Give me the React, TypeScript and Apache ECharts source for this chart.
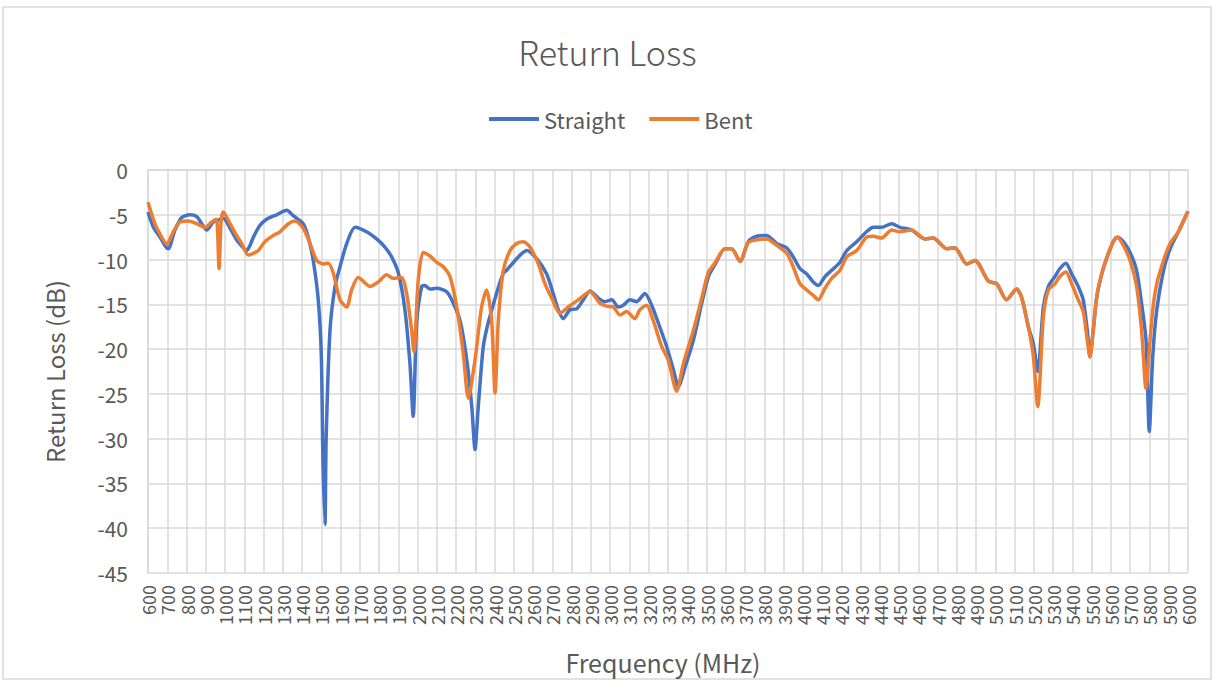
import React, { useEffect, useRef } from "react";
import * as echarts from "echarts";

const straightFreq = [600,628,662,690,705,740,775,818,853,879,905,939,965,991,1026,1060,1095,1112,1130,1147,1181,1216,1268,1320,1354,1406,1432,1458,1484,1500,1508,1519,1525,1545,1571,1597,1632,1675,1735,1787,1830,1865,1900,1934,1960,1977,1995,2021,2038,2064,2099,2151,2177,2220,2255,2281,2298,2315,2341,2367,2400,2425,2446,2462,2498,2532,2567,2618,2670,2704,2730,2756,2791,2826,2860,2895,2938,2973,3008,3042,3068,3102,3137,3180,3215,3250,3293,3328,3354,3389,3432,3475,3510,3543,3596,3630,3674,3717,3760,3812,3864,3916,3950,3985,4020,4054,4080,4115,4150,4193,4228,4280,4331,4366,4409,4461,4504,4565,4634,4677,4747,4790,4851,4894,4963,5007,5058,5110,5136,5171,5197,5220,5249,5275,5309,5335,5366,5396,5430,5456,5477,5491,5508,5526,5552,5577,5612,5633,5664,5699,5733,5759,5782,5799,5817,5838,5873,5907,5950,6000];
const straightLoss = [-4.7,-6.4,-7.5,-8.5,-8.8,-6.7,-5.3,-5.0,-5.2,-6.0,-6.7,-5.8,-5.6,-5.4,-6.5,-7.8,-8.7,-9.0,-8.4,-7.5,-6.2,-5.5,-5.0,-4.5,-5.1,-6.0,-7.5,-10.1,-14.5,-20.8,-32,-39.6,-30,-17.9,-13.0,-10.8,-8.2,-6.4,-6.9,-7.7,-8.6,-9.7,-11.5,-15.6,-21.6,-27.5,-17.1,-13.0,-12.9,-13.3,-13.2,-13.6,-14.5,-16.8,-21.2,-26.4,-31.2,-26.4,-19.7,-17.0,-14.5,-12.7,-11.5,-11.2,-10.3,-9.5,-9.0,-9.9,-11.6,-13.8,-15.6,-16.6,-15.6,-15.5,-14.5,-13.5,-14.3,-14.7,-14.5,-15.3,-15.1,-14.5,-14.7,-13.8,-15.1,-17.1,-19.7,-22.3,-24.2,-22.0,-19.0,-14.9,-11.9,-10.6,-8.8,-8.8,-10.2,-8.0,-7.4,-7.3,-8.2,-8.7,-9.7,-11.0,-11.6,-12.5,-12.9,-11.9,-11.2,-10.3,-9.0,-8.0,-6.9,-6.4,-6.4,-6.0,-6.4,-6.7,-7.7,-7.6,-8.8,-8.7,-10.5,-10.1,-12.4,-12.7,-14.5,-13.3,-14.2,-17.5,-19.4,-22.5,-15.3,-13.0,-11.9,-11.0,-10.4,-11.6,-13.0,-14.5,-17.9,-20.8,-17.9,-14.2,-11.6,-9.9,-8.0,-7.5,-8.0,-9.2,-11.2,-14.9,-19.0,-29.2,-20.8,-15.6,-11.2,-8.8,-6.9,-4.6];

const bentFreq = [600,636,671,697,731,766,809,853,896,931,953,960,969,980,991,1026,1060,1086,1121,1147,1173,1207,1251,1285,1329,1363,1406,1441,1476,1510,1536,1562,1597,1632,1657,1692,1753,1796,1839,1874,1917,1943,1969,1981,2003,2029,2064,2099,2133,2168,2203,2237,2263,2298,2332,2358,2384,2402,2419,2445,2480,2514,2549,2583,2627,2661,2696,2739,2782,2834,2895,2947,2981,3016,3051,3085,3128,3154,3189,3223,3267,3301,3345,3380,3432,3475,3510,3543,3596,3630,3674,3717,3760,3812,3864,3916,3950,3985,4020,4054,4080,4115,4150,4193,4228,4280,4331,4366,4409,4461,4504,4565,4634,4677,4747,4790,4851,4894,4963,5007,5058,5110,5136,5171,5197,5220,5249,5275,5309,5335,5366,5396,5430,5456,5477,5491,5508,5526,5552,5577,5612,5633,5664,5699,5733,5759,5782,5799,5817,5838,5873,5907,5950,6000];
const bentLoss = [-3.6,-6.0,-7.5,-8.3,-6.9,-5.8,-5.7,-6.0,-6.4,-5.8,-5.5,-6.2,-11.0,-5.6,-4.7,-6.0,-7.3,-8.2,-9.5,-9.3,-9.0,-8.0,-7.3,-6.9,-6.0,-5.7,-6.5,-8.2,-10.1,-10.5,-10.4,-11.5,-14.5,-15.3,-13.4,-12.0,-13.0,-12.5,-11.7,-12.1,-12.0,-13.8,-17.9,-20.3,-12.3,-9.2,-9.6,-10.3,-10.8,-11.9,-15.3,-20.5,-25.5,-21.2,-15.3,-13.4,-16.8,-24.9,-16.8,-11.2,-9.0,-8.2,-8.0,-8.6,-10.5,-12.7,-14.3,-16.0,-15.3,-14.5,-13.6,-14.9,-15.2,-15.3,-16.2,-15.8,-16.6,-15.6,-15.1,-16.8,-19.7,-21.2,-24.7,-21.6,-17.9,-14.3,-11.4,-10.4,-8.8,-8.8,-10.2,-8.1,-7.8,-7.7,-8.4,-9.3,-10.8,-12.7,-13.4,-14.0,-14.5,-13.2,-12.1,-11.2,-9.7,-9.0,-7.5,-7.4,-7.6,-6.7,-6.9,-6.7,-7.7,-7.6,-8.8,-8.7,-10.5,-10.1,-12.4,-12.7,-14.5,-13.3,-14.2,-17.5,-20.8,-26.4,-16.4,-13.4,-12.7,-11.9,-11.4,-12.7,-14.5,-15.8,-19.0,-20.9,-17.9,-14.2,-11.6,-9.9,-8.0,-7.5,-8.4,-10.1,-13.0,-17.9,-24.4,-20.1,-15.6,-12.7,-10.1,-8.2,-6.9,-4.6];

const seriesNames = ["Straight", "Bent"];
const seriesColors = ["#4472C4", "#ED7D31"];

const FONT = "'Noto Sans CJK SC', 'Noto Sans', sans-serif";

export default function App() {
  const ref = useRef<HTMLDivElement>(null);
  useEffect(() => {
    if (!ref.current) return;
    const chart = echarts.init(ref.current, null, { renderer: "svg" });
    const pairs = (xs: number[], ys: number[]) => xs.map((x, i) => [x, ys[i]]);
    chart.setOption({
      animation: false,
      backgroundColor: "#ffffff",
      title: {
        text: "Return Loss",
        left: "center",
        top: 29,
        textStyle: { fontFamily: FONT, fontSize: 34, fontWeight: 300, color: "#595959" },
      },
      legend: {
        data: seriesNames,
        top: 103,
        left: 484,
        icon: "rect",
        itemWidth: 50,
        itemHeight: 4,
        itemGap: 24,
        textStyle: { fontFamily: FONT, fontSize: 22, color: "#595959" },
      },
      graphic: [
        {
          type: "rect",
          shape: { x: 3, y: 7, width: 1208, height: 672 },
          style: { fill: "none", stroke: "#d9d9d9", lineWidth: 1.5 },
          silent: true,
        },
      ],
      grid: { left: 148, right: 27, top: 170, bottom: 111, containLabel: false },
      xAxis: {
        type: "value",
        min: 600,
        max: 6000,
        interval: 100,
        name: "Frequency (MHz)",
        nameLocation: "middle",
        nameGap: 76,
        nameTextStyle: { fontFamily: FONT, fontSize: 25, color: "#595959", padding: [0, 10, 0, 0] },
        axisLine: { show: true, lineStyle: { color: "#d9d9d9", width: 1.5 } },
        axisTick: { show: false },
        axisLabel: {
          rotate: 90,
          margin: 12,
          fontFamily: FONT,
          fontSize: 18,
          lineHeight: 16,
          color: "#595959",
          showMinLabel: true,
          showMaxLabel: true,
          hideOverlap: false,
          interval: 0,
          formatter: (v: number) => String(v),
        },
        splitLine: { show: true, lineStyle: { color: "#d9d9d9", width: 1.5 } },
      },
      yAxis: {
        type: "value",
        min: -45,
        max: 0,
        interval: 5,
        name: "Return Loss (dB)",
        nameLocation: "middle",
        nameGap: 82,
        nameTextStyle: { fontFamily: FONT, fontSize: 24, color: "#595959" },
        axisLine: { show: true, lineStyle: { color: "#d9d9d9", width: 1.5 } },
        axisTick: { show: false },
        axisLabel: { margin: 20, fontFamily: FONT, fontSize: 21, color: "#595959" },
        splitLine: { show: true, lineStyle: { color: "#d9d9d9", width: 1.5 } },
      },
      series: [
        {
          name: seriesNames[0],
          type: "line",
          data: pairs(straightFreq, straightLoss),
          showSymbol: false,
          symbol: "none",
          smooth: 0.25,
          lineStyle: { color: seriesColors[0], width: 3.5 },
          itemStyle: { color: seriesColors[0] },
        },
        {
          name: seriesNames[1],
          type: "line",
          data: pairs(bentFreq, bentLoss),
          showSymbol: false,
          symbol: "none",
          smooth: 0.25,
          lineStyle: { color: seriesColors[1], width: 3.5 },
          itemStyle: { color: seriesColors[1] },
        },
      ],
    });
    return () => chart.dispose();
  }, []);
  return (
    <div
      ref={ref}
      style={{ position: "absolute", left: 0, top: 0, width: 1215, height: 684 }}
    />
  );
}
